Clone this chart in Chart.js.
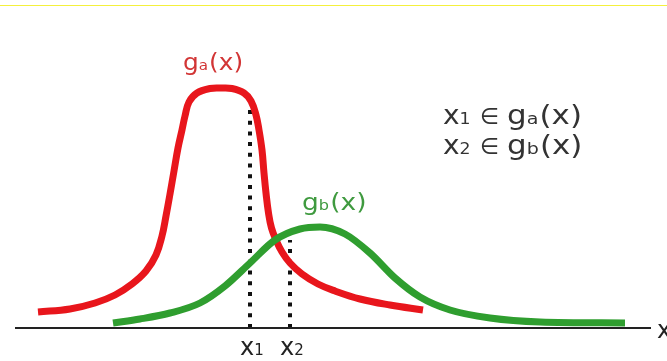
<!DOCTYPE html>
<html>
<head>
<meta charset="utf-8">
<title>g_a(x) / g_b(x)</title>
<script src="https://cdn.jsdelivr.net/npm/chart.js@4/dist/chart.umd.min.js"></script>
<style>
    html, body { margin: 0; padding: 0; background: #fff; }
    .wrap { position: relative; width: 667px; height: 361px; overflow: hidden; }
    .top-rule { position: absolute; left: 0; right: 0; top: 5px; height: 1px; background: #f4f03c; }
    #curves { position: absolute; left: 0; top: 0; }
</style>
</head>
<body>
<div class="wrap">
    <div class="top-rule"></div>
    <canvas id="curves" width="667" height="361"></canvas>
</div>
<script>
// curve a (red): x positions and heights above the x axis
const redX = [38, 70, 95, 115, 132, 146, 156, 162, 166, 170, 174, 178, 182, 185, 189, 197, 210, 221, 232, 244, 251, 256, 259, 262, 264, 266, 268.5, 271.5, 276, 282, 290, 302, 318, 335, 360, 390, 423];
const redY = [16, 19, 25, 33, 44, 57, 73, 92, 112, 134, 157, 180, 198, 212, 226, 235, 239.5, 240, 239.5, 235, 227, 213, 198, 178, 155, 135, 115, 100, 88, 76, 65, 54, 44, 37, 29, 23, 18];

// curve b (green)
const greenX = [113, 140, 170, 200, 225, 250, 275, 300, 320, 345, 370, 395, 420, 450, 490, 540, 625];
const greenY = [5, 9, 15, 25, 42, 65, 88, 99, 101, 94, 75, 50, 31, 18, 10, 6, 5];

// the two marked points and the heights their dotted lines reach
const markX = [250, 290];
const markTop = [223, 88];
const markNames = ['1', '2'];

const axisFrom = 15;
const axisTo = 651;

function toPoints(xs, ys) {
    return xs.map((x, i) => ({ x: x, y: ys[i] }));
}

// text with smaller subscript parts: [[text, size, extraGap], ...]
function drawParts(ctx, parts, x, y, color, stretch) {
    ctx.save();
    ctx.translate(x, y);
    ctx.scale(stretch || 1, 1);
    ctx.fillStyle = color;
    ctx.textBaseline = 'alphabetic';
    ctx.textAlign = 'left';
    let cx = 0;
    parts.forEach(p => {
        ctx.font = p[1] + 'px "DejaVu Sans"';
        ctx.fillText(p[0], cx, 0);
        cx += ctx.measureText(p[0]).width + (p[2] || 0);
    });
    ctx.restore();
}

const labelPlugin = {
    id: 'curveLabels',
    afterDatasetsDraw(chart) {
        const ctx = chart.ctx;
        const sx = chart.scales.x;
        const sy = chart.scales.y;
        const px = v => sx.getPixelForValue(v);
        const py = v => sy.getPixelForValue(v);

        // curve names
        drawParts(ctx, [['g', 23], ['a', 14, 1], ['(x)', 23]], px(183), py(258), '#d23535', 1.08);
        drawParts(ctx, [['g', 23], ['b', 14, 1], ['(x)', 23]], px(302), py(118), '#3f9a3f', 1.15);

        // membership notes
        [['1', 'a', 204], ['2', 'b', 174]].forEach(n => {
            drawParts(ctx, [['x', 26], [n[0], 16]], px(443), py(n[2]), '#333', 1.08);
            drawParts(ctx, [['∈', 23]], px(480), py(n[2]), '#333', 0.95);
            drawParts(ctx, [['g', 26], [n[1], 16, 1], ['(x)', 26]], px(507), py(n[2]), '#333', 1.19);
        });

        // marks under the axis
        markX.forEach((m, i) => {
            drawParts(ctx, [['x', 24], [markNames[i], 15]], px(m) - 10, py(-27), '#222');
        });

        // axis name, cut at the right edge
        drawParts(ctx, [['x', 24]], px(657), py(-10), '#222');
    }
};

document.addEventListener('DOMContentLoaded', function() {
    const ctx = document.getElementById('curves');

    const datasets = [
        {
            // x axis
            data: [{ x: axisFrom, y: 0 }, { x: axisTo, y: 0 }],
            borderColor: '#222',
            borderWidth: 2
        },
        {
            data: toPoints(greenX, greenY),
            borderColor: '#2f9e2f',
            borderWidth: 7,
            cubicInterpolationMode: 'monotone'
        },
        {
            data: toPoints(redX, redY),
            borderColor: '#e8161c',
            borderWidth: 7,
            tension: 0.4
        }
    ];

    // dotted drop lines at x1 and x2
    markX.forEach((m, i) => {
        datasets.push({
            data: [{ x: m, y: 0 }, { x: m, y: markTop[i] }],
            borderColor: '#111',
            borderWidth: 4,
            borderDash: [4, 6.7],
            borderCapStyle: 'butt'
        });
    });

    new Chart(ctx, {
        type: 'scatter',
        data: { datasets: datasets.map(d => Object.assign({ showLine: true, pointRadius: 0, fill: false }, d)) },
        options: {
            responsive: false,
            animation: false,
            devicePixelRatio: 1,
            layout: { padding: 0 },
            plugins: {
                legend: { display: false },
                tooltip: { enabled: false }
            },
            scales: {
                x: { type: 'linear', min: 0, max: 667, display: false },
                y: { type: 'linear', min: -33, max: 328, display: false }
            }
        },
        plugins: [labelPlugin]
    });
});
</script>
</body>
</html>
